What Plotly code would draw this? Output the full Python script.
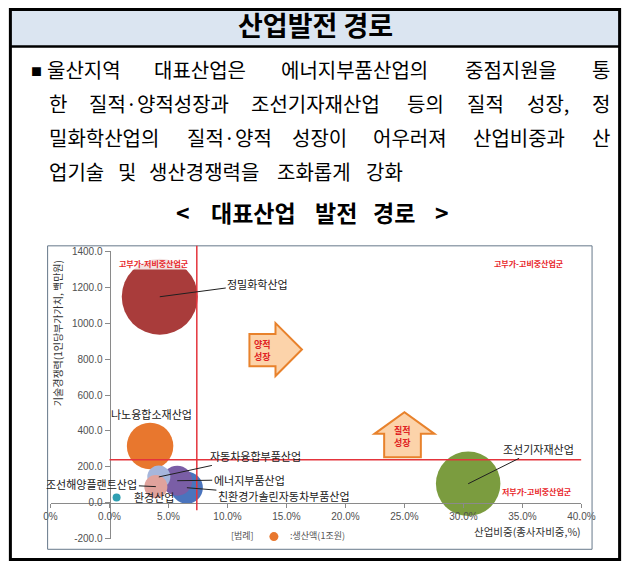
import plotly.graph_objects as go

# ---- data: representative industries (Ulsan) ----
industries = ["정밀화학산업", "나노융합소재산업", "조선기자재산업", "친환경가솔린자동차부품산업",
              "에너지부품산업", "자동차융합부품산업", "조선해양플랜트산업", "환경산업"]
share = [4.26, 3.44, 30.4, 6.56, 5.74, 4.18, 3.93, 0.6]          # 산업비중 (종사자비중, %)
value_added = [1147, 316, 106, 84, 123, 144, 90, 30]             # 1인당 부가가치 (백만원)
output = [28.9, 10.8, 20.8, 5.1, 4.5, 2.65, 2.65, 0.32]          # 생산액 (조원)
colors = ["#a93c3b", "#e8772e", "#7b9c3f", "#4a74bd",
          "#7a5ea6", "#a6b6dc", "#e0a29c", "#2f9fb2"]

x_ticks = [-5, 0, 5, 10, 15, 20, 25, 30, 35, 40]
x_ticktext = ["0%", "0.0%", "5.0%", "10.0%", "15.0%", "20.0%", "25.0%", "30.0%", "35.0%", "40.0%"]
y_ticks = [-200, 0, 200, 400, 600, 800, 1000, 1200, 1400]
y_ticktext = ["-200.0", "0.0", "200.0", "400.0", "600.0", "800.0", "1000.0", "1200.0", "1400.0"]

share_cut = 7.4      # 비중 기준선
value_cut = 240      # 부가가치 기준선

W, H = 637, 569
KR = "Noto Sans CJK KR"


def px(x):
    return x / W


def py(y):
    return 1 - y / H


def note(x, y, text, size, color="black", xanchor="center", **kw):
    """Text placed in page pixels (from the top-left corner)."""
    return dict(xref="paper", yref="paper", x=px(x), y=py(y), text=text, showarrow=False,
                xanchor=xanchor, yanchor="middle", font=dict(family=KR, size=size, color=color), **kw)


fig = go.Figure()

# bubbles: area proportional to production
max_d = 76
fig.add_trace(go.Scatter(
    x=share, y=value_added, mode="markers",
    marker=dict(size=output, sizemode="area", sizeref=2 * max(output) / max_d ** 2,
                color=colors, line=dict(width=0), opacity=1),
    text=industries, hoverinfo="text", showlegend=False,
))

annotations = []
shapes = []

# ---- document frame, title bar ----
shapes.append(dict(type="rect", xref="paper", yref="paper", x0=px(3), x1=px(634), y0=py(41), y1=py(3),
                   fillcolor="#dbe5f1", line=dict(width=0), layer="below"))
shapes.append(dict(type="rect", xref="paper", yref="paper", x0=px(3.5), x1=px(633.5), y0=py(565.5), y1=py(3.5),
                   line=dict(color="black", width=3)))
shapes.append(dict(type="line", xref="paper", yref="paper", x0=px(3), x1=px(634), y0=py(41.5), y1=py(41.5),
                   line=dict(color="black", width=2.5)))
annotations.append(note(318.5, 19, "<b>산업발전 경로</b>", 27))

# ---- body text, justified word by word ----
FS = 20


def word_width(w):
    total = 0.0
    for ch in w:
        if ch in "·,":
            total += 0.28 * FS
        else:
            total += FS
    return total


body_lines = [
    (["울산지역", "대표산업은", "에너지부품산업의", "중점지원을", "통"], 40, 624, 65, True),
    (["한", "질적·양적성장과", "조선기자재산업", "등의", "질적", "성장,", "정"], 42, 624, 100, True),
    (["밀화학산업의", "질적·양적", "성장이", "어우러져", "산업비중과", "산"], 42, 624, 134, True),
    (["업기술", "및", "생산경쟁력을", "조화롭게", "강화"], 42, 624, 169, False),
]
for words, left, right, yc, justify in body_lines:
    widths = [word_width(w) for w in words]
    gap = (right - left - sum(widths)) / (len(words) - 1) if justify else 0.6 * FS
    xpos = left
    for w, wd in zip(words, widths):
        annotations.append(note(xpos, yc, w, FS, xanchor="left", borderpad=0))
        xpos += wd + gap

annotations.append(note(30, 66, "■", 11))

# caption of the chart, spaced out piece by piece
for cx, ct in [(182, "&lt;"), (255, "대표산업"), (340, "발전"), (400, "경로"), (450, "&gt;")]:
    annotations.append(note(cx, 210, "<b>" + ct + "</b>", 23))

# ---- chart box ----
shapes.append(dict(type="rect", xref="paper", yref="paper", x0=px(42), x1=px(605), y0=py(555), y1=py(245),
                   line=dict(color="#66788a", width=1)))

# reference lines
shapes.append(dict(type="line", xref="x", yref="paper", x0=share_cut, x1=share_cut, y0=py(515), y1=py(245),
                   line=dict(color="#e4343c", width=1.5)))
shapes.append(dict(type="line", xref="x", yref="y", x0=0, x1=40, y0=value_cut, y1=value_cut,
                   line=dict(color="#e4343c", width=1.5)))

# growth arrows
arrow_style = dict(fillcolor="#fcd3aa", line=dict(color="#e8822c", width=2), layer="below")
shapes.append(dict(type="path", xref="x", yref="y",
                   path="M 11.86,940 L 14.07,940 L 14.07,1000 L 16.31,853 L 14.07,706 L 14.07,760 L 11.86,760 Z",
                   **arrow_style))
shapes.append(dict(type="path", xref="x", yref="y",
                   path="M 23.28,253 L 23.28,384 L 22.46,384 L 25.0,504 L 27.54,384 L 26.39,384 L 26.39,253 Z",
                   **arrow_style))
annotations.append(dict(x=13.0, y=850, text="<b>양적<br>성장</b>", showarrow=False,
                        font=dict(family=KR, size=9, color="#e02424")))
annotations.append(dict(x=24.85, y=368, text="<b>질적<br>성장</b>", showarrow=False,
                        font=dict(family=KR, size=9, color="#e02424")))

# quadrant captions
for qx, qy, qt in [(3.77, 1333, "고부가-저비중산업군"), (35.57, 1333, "고부가-고비중산업군"),
                   (36.2, 63, "저부가-고비중산업군")]:
    annotations.append(dict(x=qx, y=qy, text="<b>" + qt + "</b>", showarrow=False,
                            bgcolor="rgba(255,255,255,0.85)", borderpad=0,
                            font=dict(family=KR, size=8, color="#e8262a")))

# bubble labels with leader lines
label_offsets = {
    "정밀화학산업": (98, -13),
    "자동차융합부품산업": (97, -21),
    "조선해양플랜트산업": (-64, -3),
    "에너지부품산업": (72, -1),
    "친환경가솔린자동차부품산업": (97, 8),
    "조선기자재산업": (70, -35),
}
label_shifts = {
    "나노융합소재산업": (1, 32),
    "환경산업": (37, 0),
}
for name, sx, vy in zip(industries, share, value_added):
    if name in label_offsets:
        ax, ay = label_offsets[name]
        annotations.append(dict(x=sx, y=vy, text=name, showarrow=True, ax=ax, ay=ay,
                                arrowhead=0, arrowwidth=1, arrowcolor="#202020", standoff=0,
                                font=dict(family=KR, size=11, color="#202020")))
    else:
        xs, ys = label_shifts[name]
        annotations.append(dict(x=sx, y=vy, text=name, showarrow=False, xshift=xs, yshift=ys,
                                font=dict(family=KR, size=11, color="#202020")))

# axis titles and legend note
annotations.append(note(596, 537, "산업비중(종사자비중,%)", 10.5, "#333333", xanchor="right"))
annotations.append(note(53, 334, "기술경쟁력(1인당부가가치, 백만원)", 10, "#333333", textangle=-90))
annotations.append(note(244, 541, "[범례]", 9, "#555555"))
shapes.append(dict(type="circle", xref="paper", yref="paper", xsizemode="pixel", ysizemode="pixel",
                   xanchor=px(276), yanchor=py(542), x0=-4.5, x1=4.5, y0=-4.5, y1=4.5,
                   fillcolor="#e8772e", line=dict(width=0)))
annotations.append(note(291, 541, ":생산액(1조원)", 9, "#555555", xanchor="left"))

fig.update_layout(
    width=W, height=H, margin=dict(l=0, r=0, t=0, b=0),
    paper_bgcolor="white", plot_bgcolor="white",
    shapes=shapes, annotations=annotations, showlegend=False,
    xaxis=dict(domain=[px(45), px(594)], range=[-5, 40], anchor="free", position=py(507.5),
               showline=True, linecolor="#8a8a8a", linewidth=1, ticks="outside", ticklen=4,
               tickcolor="#8a8a8a", tickvals=x_ticks, ticktext=x_ticktext, showgrid=False, zeroline=False,
               tickfont=dict(family="Liberation Sans", size=10, color="#505050")),
    yaxis=dict(domain=[py(544.2), py(250.6)], range=[-200, 1400], anchor="free", position=px(106),
               showline=True, linecolor="#8a8a8a", linewidth=1, ticks="outside", ticklen=5,
               tickcolor="#8a8a8a", tickvals=y_ticks, ticktext=y_ticktext, showgrid=False, zeroline=False,
               tickfont=dict(family="Liberation Sans", size=10, color="#505050")),
)

fig.write_html("out.html")
